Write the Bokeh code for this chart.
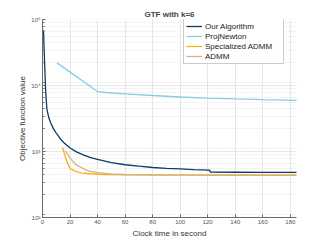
from bokeh.plotting import figure
from bokeh.models import (Legend, LegendItem, CustomJSTickFormatter, FixedTicker,
                          LogTicker, Range1d)
from bokeh.embed import file_html
from bokeh.resources import INLINE

# ---- data ----
ours_x = [0.7, 1.5, 2.3, 3.2, 4.5, 6, 8, 10, 13, 16, 20, 25, 30, 35, 40, 50, 60,
          70, 80, 90, 100, 110, 121.3, 122.0, 140, 160, 185]
ours_y = [69000, 23000, 8000, 4400, 3300, 2700, 2200, 1900, 1550, 1330, 1130, 980,
          880, 810, 760, 680, 630, 600, 572, 556, 545, 533, 522, 487, 485, 484, 483]

pn_x = [10.5, 40, 50, 60, 80, 100, 120, 140, 160, 185]
pn_y = [22000, 8100, 7700, 7450, 7050, 6700, 6450, 6250, 6100, 5950]

sadmm_x = [14.5, 17.8, 20.2, 24, 28, 35, 45, 60, 80, 100, 140, 185]
sadmm_y = [1150, 690, 545, 500, 475, 460, 448, 441, 439, 438, 437, 436]

admm_x = [16.5, 20, 23.8, 29.8, 34, 39.6, 50, 60, 80, 100, 140, 185]
admm_y = [1020, 800, 645, 545, 505, 480, 456, 448, 444, 443, 442, 441]

x_ticks = [0, 20, 40, 60, 80, 100, 120, 140, 160, 180]
y_ticks = [100, 1000, 10000, 100000]

title_text = "GTF with k=6"
x_label = "Clock time in second"
y_label = "Objective function value"
names = ["Our Algorithm", "ProjNewton", "Specialized ADMM", "ADMM"]
colors = ["#0d3a6a", "#86cbe8", "#f6b414", "#d4b48e"]

FONT = "Liberation Sans"

p = figure(width=319, height=240, y_axis_type="log",
           x_range=Range1d(0, 184.5), y_range=Range1d(100, 100000),
           output_backend="svg", toolbar_location=None,
           min_border_left=42, min_border_right=23, min_border_top=19,
           min_border_bottom=22)

p.title.text = title_text
p.title.text_font = FONT
p.title.text_font_size = "8px"
p.title.text_font_style = "bold"
p.title.align = "center"
p.title.standoff = 2
p.title.offset = 0

p.outline_line_color = None
p.background_fill_color = "white"
p.border_fill_color = "white"

# axes
for ax in (p.xaxis[0], p.yaxis[0]):
    ax.axis_line_color = "#6b6b6b"
    ax.major_tick_line_color = "#6b6b6b"
    ax.minor_tick_line_color = "#6b6b6b"
    ax.major_tick_in = 3
    ax.major_tick_out = 0
    ax.minor_tick_in = 2
    ax.minor_tick_out = 0
    ax.major_label_text_font = FONT
    ax.major_label_text_font_size = "6px"
    ax.major_label_text_color = "#555555"
    ax.axis_label_text_font = FONT
    ax.axis_label_text_font_size = "8px"
    ax.axis_label_text_font_style = "normal"
    ax.axis_label_text_color = "#333333"
    ax.major_label_standoff = 2

p.xaxis.ticker = FixedTicker(ticks=x_ticks)
p.xaxis.minor_tick_line_color = None
p.xaxis.axis_label = x_label
p.xaxis.axis_label_standoff = 2

p.yaxis.ticker = LogTicker(num_minor_ticks=9)
p.yaxis.formatter = CustomJSTickFormatter(code="""
const sup = {'0':'\u2070','1':'\u00b9','2':'\u00b2','3':'\u00b3','4':'\u2074',
             '5':'\u2075','6':'\u2076','7':'\u2077','8':'\u2078','9':'\u2079','-':'\u207b'};
const e = Math.round(Math.log10(tick));
return '10' + String(e).split('').map(c => sup[c]).join('');
""")
p.yaxis.axis_label = y_label
p.yaxis.axis_label_standoff = 1

# grids
p.xgrid.grid_line_color = "#e6e6e6"
p.ygrid.grid_line_color = "#e6e6e6"
p.ygrid.minor_grid_line_color = "#dcdcdc"
p.ygrid.minor_grid_line_dash = "1 2"

# lines
r1 = p.line(ours_x, ours_y, line_color=colors[0], line_width=1.3)
r2 = p.line(pn_x, pn_y, line_color=colors[1], line_width=1.3)
r3 = p.line(sadmm_x, sadmm_y, line_color=colors[2], line_width=1.3)
r4 = p.line(admm_x, admm_y, line_color=colors[3], line_width=1.3)

legend = Legend(items=[LegendItem(label=n, renderers=[r]) for n, r in
                       zip(names, [r1, r2, r3, r4])],
                location=(141, 153))
legend.label_text_font = FONT
legend.label_text_font_size = "8px"
legend.label_text_color = "#222222"
legend.glyph_width = 16
legend.glyph_height = 10
legend.label_height = 10
legend.label_width = 76
legend.label_standoff = 3
legend.spacing = 0
legend.padding = 2
legend.margin = 0
legend.border_line_color = "#9a9a9a"
legend.border_line_width = 1
legend.background_fill_color = "white"
legend.background_fill_alpha = 1
p.add_layout(legend, "center")

open("out.html", "w").write(file_html(p, INLINE))
